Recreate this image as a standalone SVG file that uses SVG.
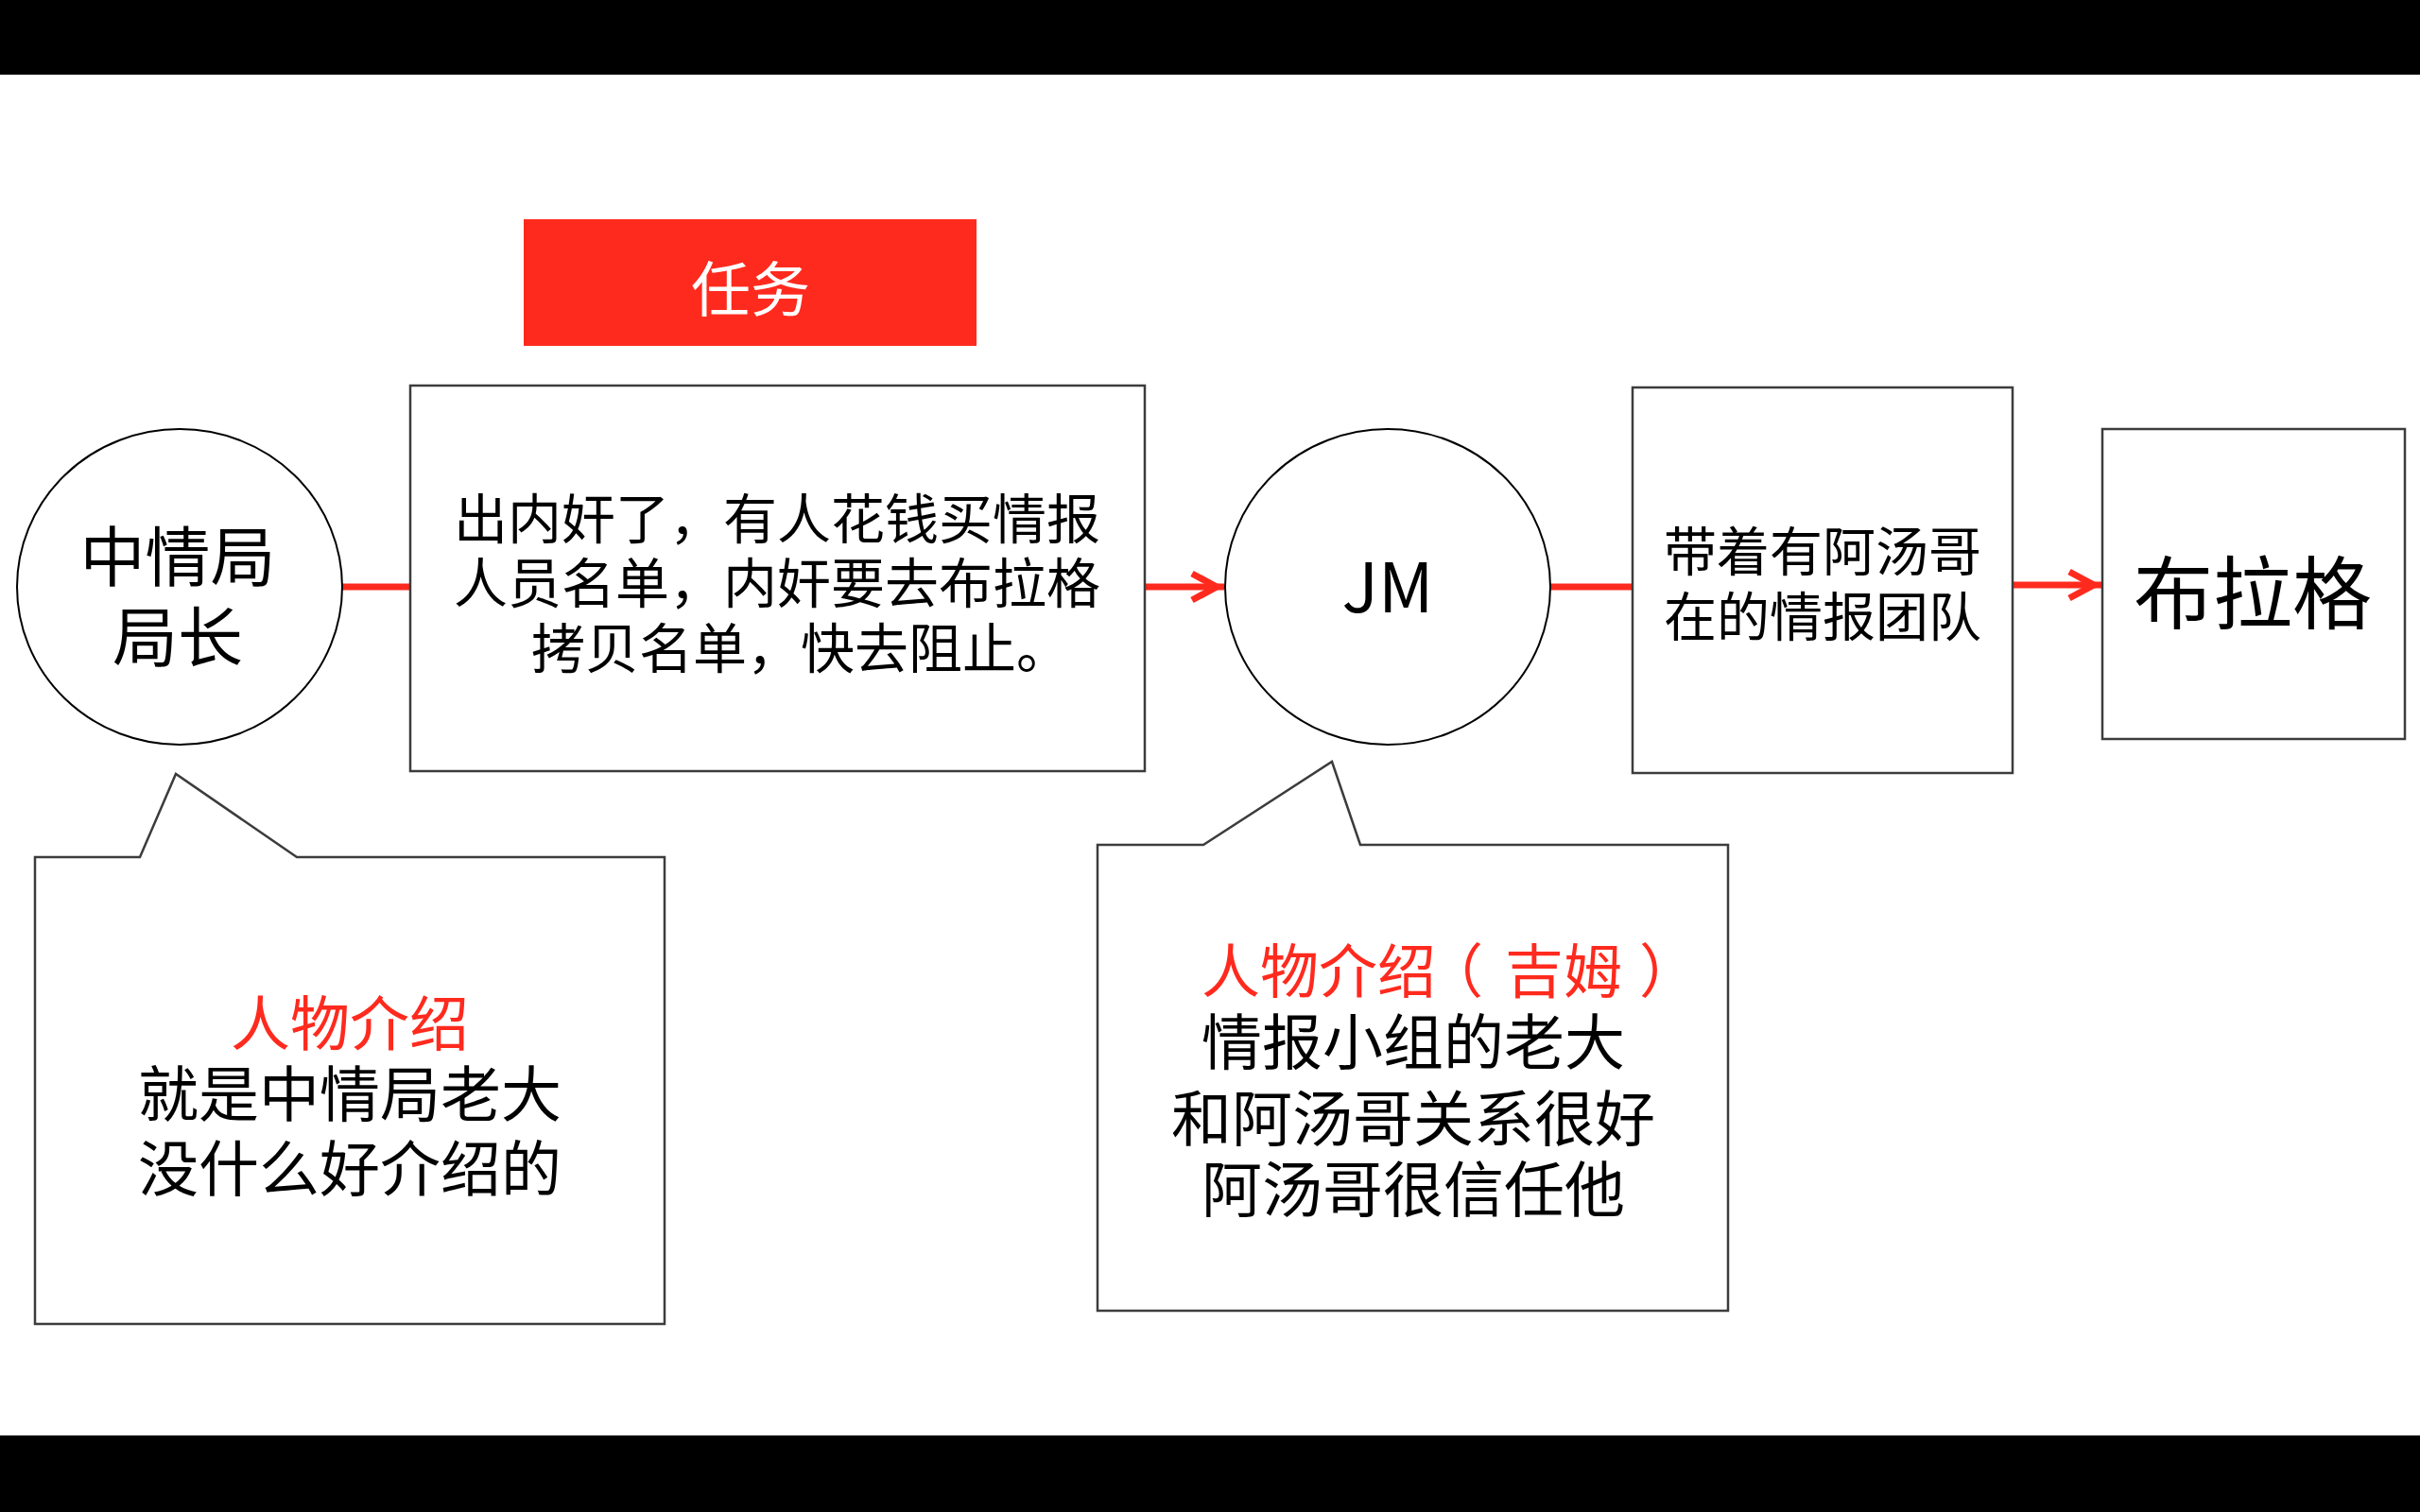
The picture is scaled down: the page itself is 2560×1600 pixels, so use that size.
<svg xmlns="http://www.w3.org/2000/svg" width="2560" height="1600" viewBox="0 0 2560 1600">
<style>
.t{font-family:"Noto Sans CJK SC","Microsoft YaHei","Noto Sans",sans-serif;fill:#000;}
.m{text-anchor:middle;}
.red{fill:#FF2A1E;}
.box{fill:#fff;stroke:#3c3c3c;stroke-width:2.5;}
.circ{fill:#fff;stroke:#000;stroke-width:2;}
.conn{stroke:#FF2A1E;stroke-width:7;fill:none;}
</style>
<defs>
<marker id="arr" markerUnits="userSpaceOnUse" markerWidth="48" markerHeight="48" viewBox="-40 -24 48 48" refX="0" refY="0" orient="auto">
<path d="M-34,-14 L-8,0 L-34,14" fill="none" stroke="#FF2A1E" stroke-width="7" stroke-miterlimit="10"/>
</marker>
</defs>
<rect x="0" y="0" width="2560" height="1600" fill="#fff"/>
<rect x="0" y="0" width="2560" height="79" fill="#000"/>
<rect x="0" y="1519" width="2560" height="81" fill="#000"/>

<g id="connectors">
<line class="conn" x1="361" y1="621" x2="433" y2="621"/>
<line class="conn" x1="1211" y1="621" x2="1295" y2="621" marker-end="url(#arr)"/>
<line class="conn" x1="1640" y1="621" x2="1727" y2="621"/>
<line class="conn" x1="2129" y1="619" x2="2223" y2="619" marker-end="url(#arr)"/>
</g>

<g id="task">
<rect x="554" y="232" width="479" height="134" fill="#FF2A1E"/>
<text class="t m" x="794" y="329" font-size="63" style="fill:#fff">任务</text>
</g>

<g id="cia-chief">
<ellipse class="circ" cx="190" cy="621" rx="172" ry="167"/>
<text class="t m" x="188" y="615" font-size="69">中情局</text>
<text class="t m" x="188" y="700" font-size="69">局长</text>
</g>

<g id="mission">
<rect class="box" x="434" y="408" width="777" height="408"/>
<text class="t m" x="822" y="570" font-size="57">出内奸了，有人花钱买情报</text>
<text class="t m" x="822" y="638" font-size="57">人员名单，内奸要去布拉格</text>
<text class="t m" x="847" y="707" font-size="57">拷贝名单，快去阻止。</text>
</g>

<g id="jm">
<ellipse class="circ" cx="1468" cy="621" rx="172" ry="167"/>
<text class="t m" x="1468" y="648" font-size="72">JM</text>
</g>

<g id="team">
<rect class="box" x="1727" y="410" width="402" height="408"/>
<text class="t m" x="1928" y="604" font-size="56">带着有阿汤哥</text>
<text class="t m" x="1928" y="673" font-size="56">在的情报团队</text>
</g>

<g id="prague">
<rect class="box" x="2224" y="454" width="320" height="328"/>
<text class="t m" x="2383" y="659" font-size="84">布拉格</text>
</g>

<g id="callout-chief">
<path class="box" d="M37,907 L148,907 L186,819 L314,907 L703,907 L703,1401 L37,1401 Z"/>
<text class="t m red" x="370" y="1106" font-size="63">人物介绍</text>
<text class="t m" x="370" y="1181" font-size="64">就是中情局老大</text>
<text class="t m" x="370" y="1260" font-size="64">没什么好介绍的</text>
</g>

<g id="callout-jm">
<path class="box" d="M1161,894 L1273,894 L1409,806 L1439,894 L1828,894 L1828,1387 L1161,1387 Z"/>
<text class="t red" x="1271" y="1051" font-size="62">人物介绍<tspan dx="-12">（</tspan><tspan dx="23">吉姆</tspan><tspan dx="18">）</tspan></text>
<text class="t m" x="1495" y="1126" font-size="64">情报小组的老大</text>
<text class="t m" x="1495" y="1207" font-size="64">和阿汤哥关系很好</text>
<text class="t m" x="1495" y="1282" font-size="64">阿汤哥很信任他</text>
</g>
</svg>
